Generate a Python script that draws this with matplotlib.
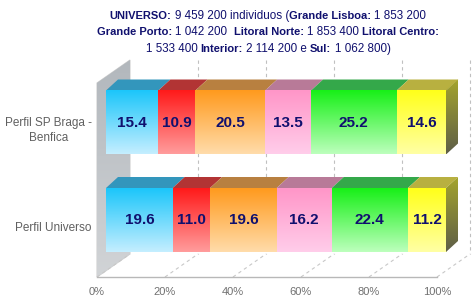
import matplotlib
matplotlib.use('Agg')
import matplotlib.pyplot as plt
import numpy as np
from matplotlib.patches import Polygon
from matplotlib.colors import to_rgb
from matplotlib.transforms import IdentityTransform

# ---------------- data ----------------
categories = ['Perfil SP Braga -\nBenfica', 'Perfil Universo']
series = ['Grande Lisboa', 'Grande Porto', 'Litoral Norte',
          'Litoral Centro', 'Interior', 'Sul']
braga = [15.4, 10.9, 20.5, 13.5, 25.2, 14.6]
universo = [19.6, 11.0, 19.6, 16.2, 22.4, 11.2]
values = [braga, universo]
xticks = [0, 20, 40, 60, 80, 100]
xticklabels = ['0%', '20%', '40%', '60%', '80%', '100%']

# (text, bold, space after)
title_lines = [
    [('UNIVERSO:', True, True), ('9 459 200 individuos (', False, False),
     ('Grande Lisboa:', True, True), ('1 853 200', False, False)],
    [('Grande Porto:', True, True), ('1 042 200', False, True), ('', False, True),
     ('Litoral Norte:', True, True), ('1 853 400', False, True), ('Litoral Centro:', True, False)],
    [('1 533 400', False, True), ('Interior:', True, True), ('2 114 200 e', False, True),
     ('Sul:', True, True), ('1 062 800)', False, False)],
]

# ---------------- style ----------------
front_top = ['#1cc6fa', '#ff1a1a', '#ff9a1e', '#ff96c8', '#18f018', '#ffff1a']
front_bot = ['#c4eeff', '#ff9c9c', '#ffdcaa', '#ffcdea', '#bcffbc', '#ffffa4']
top_face = ['#3396bc', '#b23434', '#b88040', '#b87a98', '#34a84a', '#b8b040']
FONT = 'Liberation Sans'
NAVY = '#10106e'

W, H = 474, 307
fig = plt.figure(figsize=(W / 100, H / 100), dpi=100)
ax = fig.add_axes([0, 0, 1, 1])
S = 3.4           # pixels per percent
X0 = 97           # pixel of 0% on the front floor edge
ax.set_xlim(-X0 / S, (W - X0) / S)
ax.set_ylim(H, 0)
ax.axis('off')

def X(pct, dpx):
    return pct + dpx / S

FLOOR_Y = 277
DEPTH_X, DEPTH_Y = 33, -23
WALL_TOP = 83
cat_y = [128.5, 226]
half_h = 32
BF = (9, -6)      # bar front offset
BB = (21, -17)    # bar back offset

# ---- left wall ----
wall = Polygon([(X(0, 0), WALL_TOP), (X(0, DEPTH_X), WALL_TOP + DEPTH_Y),
                (X(0, DEPTH_X), FLOOR_Y + DEPTH_Y), (X(0, 0), FLOOR_Y)],
               closed=True, facecolor='#bcbfc2', edgecolor='#d0d0d0', lw=0.8, zorder=1)
ax.add_patch(wall)
grad = np.linspace(0, 1, 50)[:, None]
wc = np.array([[0.70, 0.72, 0.74]]) * (1 - grad[..., None]) + np.array([[0.82, 0.83, 0.84]]) * grad[..., None]
im = ax.imshow(wc, extent=(X(0, 0), X(0, DEPTH_X), FLOOR_Y, WALL_TOP + DEPTH_Y),
               aspect='auto', interpolation='bilinear', zorder=1.1)
im.set_clip_path(wall)

# ---- gridlines ----
for t in xticks[1:]:
    ax.plot([X(t, DEPTH_X)] * 2, [WALL_TOP + DEPTH_Y, FLOOR_Y + DEPTH_Y],
            color='#c0c0c0', lw=0.8, ls=(0, (3, 3)), zorder=2)
for t in xticks:
    ax.plot([X(t, 0), X(t, DEPTH_X)], [FLOOR_Y, FLOOR_Y + DEPTH_Y],
            color='#c8c8c8', lw=0.8, ls=(0, (3, 3)), zorder=2)
ax.plot([X(0, 0), X(100, 0)], [FLOOR_Y, FLOOR_Y], color='#b8b8b8', lw=1, zorder=2)
for t, lab in zip(xticks, xticklabels):
    ax.text(X(t, 0), FLOOR_Y + 15, lab, ha='center', va='center', fontsize=8,
            color='#707070', family=FONT)

# ---- bars ----
for ci, (cat, vals) in enumerate(zip(categories, values)):
    yc = cat_y[ci]
    ytop = yc - half_h + BF[1]
    ybot = yc + half_h + BF[1]
    left = 0.0
    for si, v in enumerate(vals):
        right = left + v
        ax.add_patch(Polygon([(X(left, BF[0]), ytop), (X(right, BF[0]), ytop),
                              (X(right, BB[0]), ytop + BB[1] - BF[1]),
                              (X(left, BB[0]), ytop + BB[1] - BF[1])],
                             closed=True, facecolor=top_face[si], edgecolor='none', zorder=3))
        c1 = np.array(to_rgb(front_top[si]))
        c2 = np.array(to_rgb(front_bot[si]))
        g = np.linspace(0, 1, 64)[:, None, None]
        img = c1[None, None, :] * (1 - g) + c2[None, None, :] * g
        ax.imshow(img, extent=(X(left, BF[0]), X(right, BF[0]), ybot, ytop),
                  aspect='auto', interpolation='bilinear', zorder=4)
        ax.text((X(left, BF[0]) + X(right, BF[0])) / 2, (ytop + ybot) / 2 + 0.5, f'{v:.1f}',
                ha='center', va='center', fontsize=11, weight='bold', color=NAVY,
                family=FONT, zorder=6)
        left = right
    total = 100.0
    side = Polygon([(X(total, BF[0]), ytop), (X(total, BB[0]), ytop + BB[1] - BF[1]),
                    (X(total, BB[0]), ybot + BB[1] - BF[1]), (X(total, BF[0]), ybot)],
                   closed=True, facecolor='none', edgecolor='none', zorder=4)
    ax.add_patch(side)
    c1 = np.array(to_rgb('#a4a42c'))
    c2 = np.array(to_rgb('#5e5e48'))
    g = np.linspace(0, 1, 64)[:, None, None]
    img = c1[None, None, :] * (1 - g) + c2[None, None, :] * g
    sim = ax.imshow(img, extent=(X(total, BF[0]), X(total, BB[0]), ybot, ytop + BB[1] - BF[1]),
                    aspect='auto', interpolation='bilinear', zorder=4)
    sim.set_clip_path(side)
    ax.text(X(0, -5), yc + 2, cat, ha='right', va='center', multialignment='center',
            fontsize=8.5, color='#606060', family=FONT, linespacing=1.25)

ax.set_xlim(-X0 / S, (W - X0) / S)
ax.set_ylim(H, 0)

# ---- title with mixed weights ----
renderer = fig.canvas.get_renderer()
FS_B, FS_N = 8, 8.4

def measure(s, bold):
    if not s:
        return 0.0
    t = fig.text(0, 0, s, fontsize=FS_B if bold else FS_N,
                 weight='bold' if bold else 'normal', family=FONT)
    w = t.get_window_extent(renderer).width
    t.remove()
    return w

space_w = measure('a a', False) - measure('aa', False)
line_y = [16, 32, 49]
cx = 268
for parts, yy in zip(title_lines, line_y):
    widths = [measure(s, b) for s, b, _ in parts]
    total_w = sum(widths) + space_w * sum(1 for p in parts[:-1] if p[2])
    x = cx - total_w / 2
    for (s, b, sp), w in zip(parts, widths):
        if s:
            fig.text(x, H - yy, s, fontsize=FS_B if b else FS_N,
                     weight='bold' if b else 'normal',
                     family=FONT, color=NAVY, ha='left', va='center',
                     transform=IdentityTransform())
        x += w + (space_w if sp else 0)

fig.savefig('out.png', dpi=100, facecolor='white')
